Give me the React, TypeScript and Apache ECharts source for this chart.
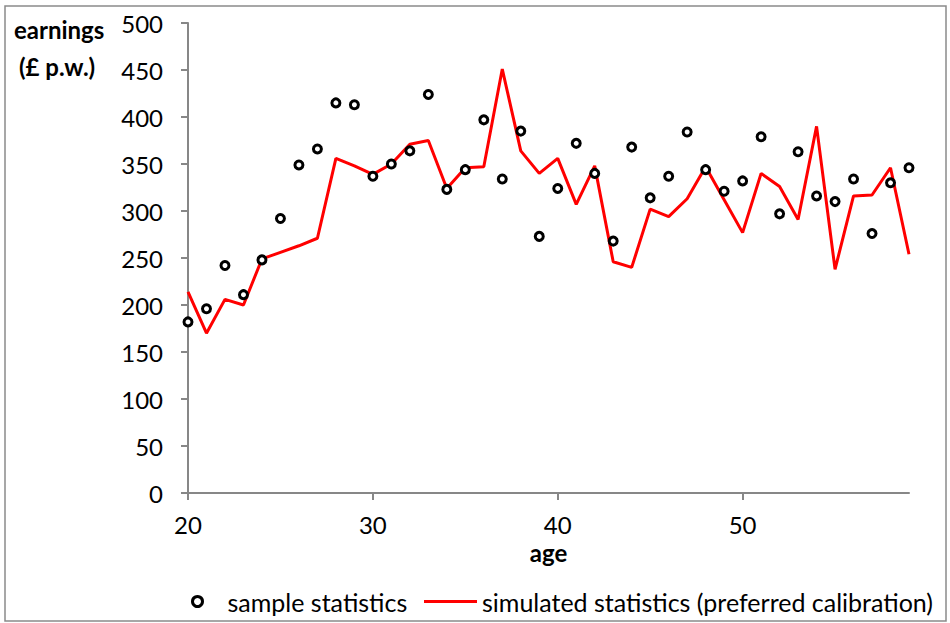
import { useEffect, useRef } from "react";
import * as echarts from "echarts";

// ages 20..59
const ages = [
  20, 21, 22, 23, 24, 25, 26, 27, 28, 29, 30, 31, 32, 33, 34, 35, 36, 37, 38, 39,
  40, 41, 42, 43, 44, 45, 46, 47, 48, 49, 50, 51, 52, 53, 54, 55, 56, 57, 58, 59,
];

// sample statistics (dots)
const sample = [
  182, 196, 242, 211, 248, 292, 349, 366, 415, 413, 337, 350, 364, 424, 323, 344, 397, 334, 385, 273,
  324, 372, 340, 268, 368, 314, 337, 384, 344, 321, 332, 379, 297, 363, 316, 310, 334, 276, 330, 346,
];

// simulated statistics (preferred calibration)
const simulated = [
  214, 170, 206, 200, 249, 256, 263, 271, 356, 348, 339, 350, 371, 375, 324, 346, 347, 451, 364, 340,
  356, 307, 348, 246, 240, 302, 294, 313, 347, 312, 277, 340, 326, 291, 390, 238, 316, 317, 346, 254,
];

const xTicks = [20, 30, 40, 50];

const FONT = "Lato, 'Liberation Sans', sans-serif";
const FS = 24;
const LEGEND_FS = 25;
const AXIS_GRAY = "#878787";

export default function App() {
  const ref = useRef<HTMLDivElement>(null);

  useEffect(() => {
    document.body.style.margin = "0";
    if (!ref.current) return;
    const chart = echarts.init(ref.current, undefined, { renderer: "svg" });

    chart.setOption({
      animation: false,
      backgroundColor: "#fff",
      textStyle: { fontFamily: FONT },
      grid: { left: 188, right: 41, top: 23, bottom: 130 },
      xAxis: {
        type: "value",
        min: 20,
        max: 59,
        interval: 10,
        name: "age",
        nameLocation: "middle",
        nameGap: 44,
        nameTextStyle: { fontSize: FS, fontWeight: "bold", color: "#000", fontFamily: FONT },
        axisLine: { lineStyle: { color: AXIS_GRAY, width: 2 } },
        axisTick: { length: 7, customValues: xTicks, lineStyle: { color: AXIS_GRAY, width: 2 } },
        axisLabel: { customValues: xTicks, fontSize: FS, color: "#000", margin: 19, fontFamily: FONT },
        splitLine: { show: false },
      },
      yAxis: {
        type: "value",
        min: 0,
        max: 500,
        interval: 50,
        axisLine: { show: true, lineStyle: { color: AXIS_GRAY, width: 2 } },
        axisTick: { show: true, length: 7, lineStyle: { color: AXIS_GRAY, width: 2 } },
        axisLabel: { fontSize: FS, color: "#000", margin: 25, fontFamily: FONT },
        splitLine: { show: false },
      },
      legend: [
        {
          data: [
            {
              name: "sample statistics",
              icon: "circle",
              itemStyle: { color: "#fff", borderColor: "#000", borderWidth: 3 },
            },
          ],
          left: 186,
          top: 584,
          itemWidth: 10,
          itemHeight: 10,
          textStyle: { fontSize: LEGEND_FS, color: "#000", fontFamily: FONT, padding: [0, 0, 0, 20] },
        },
        {
          data: [{ name: "simulated statistics (preferred calibration)", icon: "rect" }],
          left: 419,
          top: 584,
          itemWidth: 53,
          itemHeight: 3,
          textStyle: { fontSize: LEGEND_FS, color: "#000", fontFamily: FONT, padding: [0, 0, 0, 0] },
        },
      ],
      graphic: [
        {
          type: "rect",
          shape: { x: 5, y: 6, width: 941, height: 615 },
          style: { fill: "none", stroke: "#8a8a8a", lineWidth: 1.5 },
          silent: true,
        },
        {
          type: "text",
          left: 14,
          top: 17,
          style: { text: "earnings", fontSize: FS, fontWeight: "bold", fill: "#000", fontFamily: FONT },
        },
        {
          type: "text",
          left: 19,
          top: 54,
          style: { text: "(£ p.w.)", fontSize: FS, fontWeight: "bold", fill: "#000", fontFamily: FONT },
        },
      ],
      series: [
        {
          name: "simulated statistics (preferred calibration)",
          type: "line",
          data: ages.map((a, i) => [a, simulated[i]]),
          showSymbol: false,
          lineStyle: { color: "#ff0000", width: 3 },
          itemStyle: { color: "#ff0000" },
          z: 2,
        },
        {
          name: "sample statistics",
          type: "scatter",
          data: ages.map((a, i) => [a, sample[i]]),
          symbol: "circle",
          symbolSize: 8,
          itemStyle: { color: "#fff", borderColor: "#000", borderWidth: 3, opacity: 1 },
          z: 3,
        },
      ],
    });

    return () => chart.dispose();
  }, []);

  return <div ref={ref} style={{ width: 950, height: 623 }} />;
}
